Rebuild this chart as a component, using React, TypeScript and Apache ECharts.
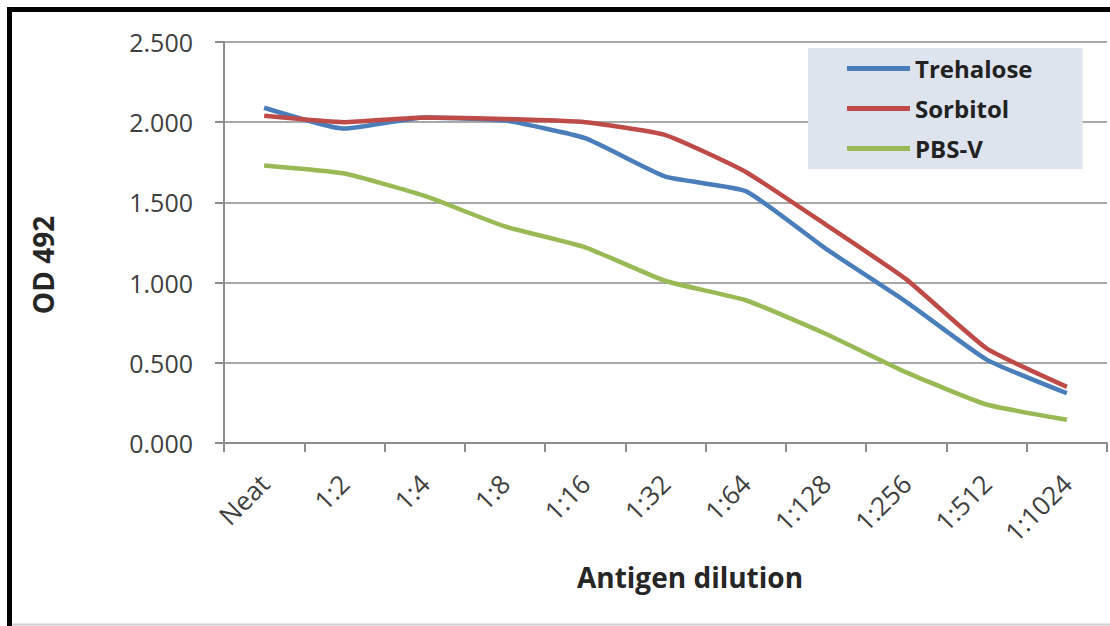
import React, { useEffect, useRef } from "react";
import * as echarts from "echarts";

const categories = ["Neat", "1:2", "1:4", "1:8", "1:16", "1:32", "1:64", "1:128", "1:256", "1:512", "1:1024"];
const trehalose = [2.09, 1.96, 2.03, 2.01, 1.9, 1.66, 1.57, 1.21, 0.88, 0.52, 0.31];
const sorbitol = [2.04, 2.0, 2.03, 2.02, 2.0, 1.92, 1.69, 1.36, 1.02, 0.59, 0.35];
const pbsV = [1.73, 1.68, 1.54, 1.35, 1.22, 1.01, 0.89, 0.68, 0.44, 0.24, 0.145];
const yTicks = [0, 0.5, 1, 1.5, 2, 2.5];

const FONT = "'Open Sans', 'Noto Sans', sans-serif";
const TEXT = "#404040";
const AXIS = "#8c8c8c";
const GRID = "#a8a8a8";

export default function App() {
  const ref = useRef<HTMLDivElement>(null);

  useEffect(() => {
    if (!ref.current) return;
    const chart = echarts.init(ref.current, undefined, { renderer: "svg" });
    const line = (name: string, data: number[], color: string) => ({
      name,
      type: "line",
      data,
      smooth: 0.15,
      showSymbol: false,
      symbol: "none",
      lineStyle: { color, width: 4.5 },
      itemStyle: { color },
    });
    chart.setOption({
      animation: false,
      backgroundColor: "#ffffff",
      grid: { left: 224, right: 3, top: 42, bottom: 183, containLabel: false },
      legend: {
        orient: "vertical",
        left: 808,
        top: 48,
        icon: "rect",
        itemWidth: 63,
        itemHeight: 5,
        itemGap: 15,
        padding: [8, 50, 8, 39],
        backgroundColor: "#dde4ee",
        textStyle: { fontFamily: FONT, fontWeight: "bold", fontSize: 24, color: "#222222", lineHeight: 25 },
        data: ["Trehalose", "Sorbitol", "PBS-V"],
      },
      xAxis: {
        type: "category",
        data: categories,
        boundaryGap: true,
        axisLine: { lineStyle: { color: AXIS, width: 2 } },
        axisTick: { show: true, length: 9, lineStyle: { color: AXIS, width: 2 } },
        axisLabel: { rotate: 45, margin: 36, fontFamily: FONT, fontSize: 26, color: TEXT, interval: 0 },
        splitLine: { show: false },
      },
      yAxis: {
        type: "value",
        min: yTicks[0],
        max: yTicks[yTicks.length - 1],
        interval: 0.5,
        axisLine: { show: true, lineStyle: { color: AXIS, width: 2 } },
        axisTick: { show: true, length: 9, lineStyle: { color: AXIS, width: 2 } },
        axisLabel: {
          margin: 31,
          fontFamily: FONT,
          fontSize: 25,
          color: TEXT,
          formatter: (v: number) => v.toFixed(3),
        },
        splitLine: { show: true, lineStyle: { color: GRID, width: 2 } },
      },
      series: [
        line("Trehalose", trehalose, "#4a7ebb"),
        line("Sorbitol", sorbitol, "#be4b48"),
        line("PBS-V", pbsV, "#98b954"),
      ],
      graphic: [
        {
          type: "rect",
          silent: true,
          shape: { x: 9.5, y: 9.5, width: 1300, height: 800 },
          style: { fill: "none", stroke: "#000000", lineWidth: 5 },
          z: 100,
        },
        {
          type: "line",
          silent: true,
          shape: { x1: 12, y1: 624.5, x2: 1110, y2: 624.5 },
          style: { stroke: "#cfcfcf", lineWidth: 2 },
        },
        {
          type: "text",
          x: 690,
          y: 577,
          style: {
            text: "Antigen dilution",
            font: `bold 28px ${FONT}`,
            fill: "#262626",
            align: "center",
            verticalAlign: "middle",
          },
        },
        {
          type: "text",
          x: 43,
          y: 265,
          rotation: Math.PI / 2,
          style: {
            text: "OD 492",
            font: `bold 28px ${FONT}`,
            fill: "#262626",
            align: "center",
            verticalAlign: "middle",
          },
        },
      ],
    });
    return () => chart.dispose();
  }, []);

  return (
    <div
      ref={ref}
      style={{ position: "absolute", left: 0, top: 0, width: 1110, height: 626, background: "#ffffff" }}
    />
  );
}
